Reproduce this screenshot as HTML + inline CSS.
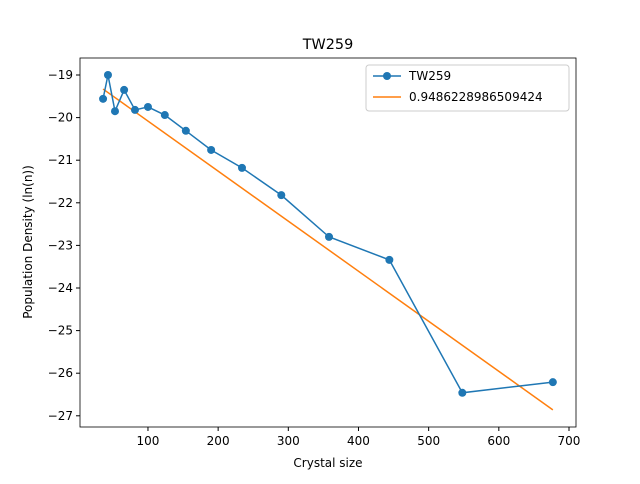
<!DOCTYPE html>
<html><head><meta charset="utf-8"><style>
body{margin:0;background:#fff;font-family:"DejaVu Sans","Liberation Sans",sans-serif;}
svg text{font-family:"DejaVu Sans","Liberation Sans",sans-serif;}
</style></head><body>
<svg id="chart" width="640" height="480" xmlns="http://www.w3.org/2000/svg">
<rect width="640" height="480" fill="#fff"/>
<text x="328" y="49" font-size="14.4" text-anchor="middle">TW259</text>
<g id="axes"></g>
<text x="328" y="467" font-size="12" text-anchor="middle">Crystal size</text>
<text transform="translate(32,242) rotate(-90)" font-size="12" text-anchor="middle">Population Density (ln(n))</text>
<g>
<rect x="366" y="65" width="203" height="46" fill="#fff" stroke="#ccc" rx="3"/>
<line x1="373" y1="76" x2="401" y2="76" stroke="#1f77b4" stroke-width="1.5"/>
<circle cx="387" cy="76" r="4" fill="#1f77b4"/>
<text x="409" y="80" font-size="12">TW259</text>
<line x1="373" y1="97" x2="401" y2="97" stroke="#ff7f0e" stroke-width="1.5"/>
<text x="409" y="101" font-size="12">0.9486228986509424</text>
</g>
</svg>
<script>
const sizes=[36,43,53,66,81.5,100,124,154,190,234,290,358,444,548,677];
const densities=[-19.56,-19.0,-19.85,-19.35,-19.82,-19.75,-19.94,-20.31,-20.76,-21.18,-21.82,-22.8,-23.34,-26.46,-26.21];
const fitX=[36,677];
const fitY=[-19.33,-26.86];
const xTicks=[100,200,300,400,500,600,700];
const yTicks=[-19,-20,-21,-22,-23,-24,-25,-26,-27];
const L=80,R=576,T=58,B=427;
const sx=v=>77.8+v*0.7017;
const sy=v=>75+(-19-v)*42.6;
const NS="http://www.w3.org/2000/svg";
const g=document.getElementById('axes');
function mk(t,a){const e=document.createElementNS(NS,t);for(const k in a)e.setAttribute(k,a[k]);g.appendChild(e);return e;}
xTicks.forEach(v=>{const x=sx(v);
const l=mk('line',{x1:x,x2:x,y1:B,y2:B+4,stroke:'#000'});


const t=mk('text',{x:x,y:B+18,'font-size':12,'text-anchor':'middle'});t.textContent=v;

});
yTicks.forEach(v=>{const y=sy(v);
const l=mk('line',{x1:L-4,x2:L,y1:y,y2:y,stroke:'#000'});


const t=mk('text',{x:L-7,y:y+4,'font-size':12,'text-anchor':'end'});t.textContent='\u2212'+Math.abs(v);

});
const fit=mk('polyline',{points:fitX.map((v,i)=>sx(v)+','+sy(fitY[i])).join(' '),fill:'none',stroke:'#ff7f0e','stroke-width':1.5});


const ln=mk('polyline',{points:sizes.map((v,i)=>sx(v)+','+sy(densities[i])).join(' '),fill:'none',stroke:'#1f77b4','stroke-width':1.5});


sizes.forEach((v,i)=>{const c=mk('circle',{cx:sx(v),cy:sy(densities[i]),r:4,fill:'#1f77b4'});

});
const f=mk('rect',{x:L,y:T,width:R-L,height:B-T,fill:'none',stroke:'#000','stroke-width':0.8});


</script>
</body></html>
